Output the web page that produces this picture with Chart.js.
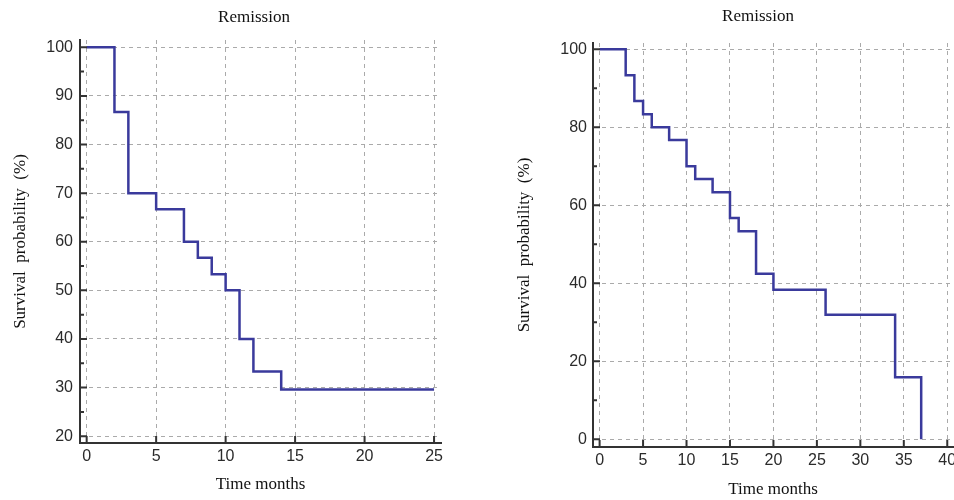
<!DOCTYPE html>
<html>
<head>
<meta charset="utf-8">
<title>Remission</title>
<script src="https://cdn.jsdelivr.net/npm/chart.js@4.4.1/dist/chart.umd.min.js"></script>
<style>
  html, body { margin: 0; padding: 0; background: #fff; overflow: hidden; }
  .panel { position: absolute; top: 0; width: 470px; height: 500px; }
  #left { left: 0; }
  #right { left: 500px; }
</style>
</head>
<body>
<div class="panel" id="left"><canvas id="chart-left"></canvas></div>
<div class="panel" id="right"><canvas id="chart-right"></canvas></div>
<script>
// 左パネルのデータ
const leftTimes = [0, 2, 3, 5, 7, 8, 9, 10, 11, 12, 14, 25];
const leftSurvival = [100, 86.7, 70, 66.7, 60, 56.7, 53.3, 50, 40, 33.3, 29.6, 29.6];
const leftXTicks = [0, 5, 10, 15, 20, 25];
const leftYTicks = [20, 30, 40, 50, 60, 70, 80, 90, 100];
const leftYMinor = [25, 35, 45, 55, 65, 75, 85, 95];

// 右パネルのデータ
const rightTimes = [0, 3, 4, 5, 6, 8, 10, 11, 13, 15, 16, 18, 20, 26, 34, 37];
const rightSurvival = [100, 93.3, 86.7, 83.3, 80, 76.7, 70, 66.7, 63.3, 56.7, 53.3, 42.4, 38.3, 31.9, 15.9, 0];
const rightXTicks = [0, 5, 10, 15, 20, 25, 30, 35, 40];
const rightYTicks = [0, 20, 40, 60, 80, 100];
const rightYMinor = [10, 30, 50, 70, 90];

const titleText = 'Remission';
const xTitle = 'Time months';
const yTitle = 'Survival  probability  (%)';

// タイトル描画
const panelTitle = {
    id: 'panelTitle',
    afterDraw(chart, args, opts) {
        const ctx = chart.ctx;
        ctx.save();
        ctx.font = opts.font;
        ctx.fillStyle = opts.color;
        ctx.textAlign = 'center';
        ctx.textBaseline = 'middle';
        ctx.fillText(opts.text, opts.x, opts.y);
        ctx.restore();
    }
};

// 内向きの目盛り
const innerTicks = {
    id: 'innerTicks',
    afterDraw(chart, args, opts) {
        const { ctx, chartArea, scales } = chart;
        const x = scales.x, y = scales.y;
        ctx.save();
        ctx.strokeStyle = opts.color;
        ctx.lineWidth = opts.width;
        ctx.beginPath();
        x.ticks.forEach(t => {
            const px = x.getPixelForValue(t.value);
            ctx.moveTo(px, chartArea.bottom);
            ctx.lineTo(px, chartArea.bottom - opts.major);
        });
        y.ticks.forEach(t => {
            const py = y.getPixelForValue(t.value);
            ctx.moveTo(chartArea.left, py);
            ctx.lineTo(chartArea.left + opts.major, py);
        });
        opts.yMinor.forEach(v => {
            const py = y.getPixelForValue(v);
            ctx.moveTo(chartArea.left, py);
            ctx.lineTo(chartArea.left + opts.minor, py);
        });
        ctx.stroke();
        ctx.restore();
    }
};

function makeChart(id, p) {
    const ctx = document.getElementById(id).getContext('2d');
    return new Chart(ctx, {
        type: 'line',
        data: {
            datasets: [{
                data: p.times.map((t, i) => ({ x: t, y: p.survival[i] })),
                borderColor: '#3a3a9c',
                borderWidth: 2.5,
                pointRadius: 0,
                stepped: 'before',
                fill: false
            }]
        },
        options: {
            responsive: true,
            maintainAspectRatio: false,
            animation: false,
            layout: { padding: { top: p.padTop, right: p.padRight, left: 0, bottom: 0 } },
            plugins: {
                legend: { display: false },
                tooltip: { enabled: false },
                panelTitle: {
                    text: titleText,
                    font: '17px "Liberation Serif"',
                    color: '#111',
                    x: p.titleX,
                    y: p.titleY
                },
                innerTicks: { color: '#333', width: 2, major: 7, minor: 4, yMinor: p.yMinor }
            },
            scales: {
                x: {
                    type: 'linear',
                    min: p.xMin,
                    max: p.xMax,
                    afterBuildTicks: s => { s.ticks = p.xTicks.map(v => ({ value: v })); },
                    afterFit: s => { s.height = p.xAxisHeight; },
                    grid: { color: '#aaa', lineWidth: 1, drawTicks: false },
                    border: { display: true, color: '#333', width: 2, dash: [4, 4] },
                    ticks: {
                        color: '#2b2b2b',
                        padding: 4,
                        font: { family: '"Liberation Sans"', size: 16 }
                    },
                    title: {
                        display: true,
                        text: xTitle,
                        color: '#111',
                        font: { family: '"Liberation Serif"', size: 17 },
                        padding: { top: 0, bottom: p.xTitlePad }
                    }
                },
                y: {
                    type: 'linear',
                    min: p.yMin,
                    max: p.yMax,
                    afterBuildTicks: s => { s.ticks = p.yTicks.map(v => ({ value: v })); },
                    afterFit: s => { s.width = p.yAxisWidth; },
                    grid: { color: '#aaa', lineWidth: 1, drawTicks: false },
                    border: { display: true, color: '#333', width: 2, dash: [4, 4] },
                    ticks: {
                        color: '#2b2b2b',
                        padding: p.yTickPad,
                        font: { family: '"Liberation Sans"', size: 16 }
                    },
                    title: {
                        display: true,
                        text: yTitle,
                        color: '#111',
                        font: { family: '"Liberation Serif"', size: 17 },
                        padding: { top: p.yTitlePad, bottom: 0 }
                    }
                }
            }
        },
        plugins: [panelTitle, innerTicks]
    });
}

makeChart('chart-left', {
    times: leftTimes, survival: leftSurvival,
    xTicks: leftXTicks, yTicks: leftYTicks, yMinor: leftYMinor,
    xMin: -0.48, xMax: 25.5, yMin: 18.6, yMax: 101.5,
    padTop: 40, padRight: 29, yAxisWidth: 80, xAxisHeight: 57,
    yTickPad: 7, xTitlePad: 4.8, yTitlePad: 10,
    titleX: 254, titleY: 18
});

makeChart('chart-right', {
    times: rightTimes, survival: rightSurvival,
    xTicks: rightXTicks, yTicks: rightYTicks, yMinor: rightYMinor,
    xMin: -0.76, xMax: 40.66, yMin: -2, yMax: 101.6,
    padTop: 43, padRight: 17, yAxisWidth: 93, xAxisHeight: 53,
    yTickPad: 6, xTitlePad: 0, yTitlePad: 14.8,
    titleX: 258, titleY: 17
});
</script>
</body>
</html>
